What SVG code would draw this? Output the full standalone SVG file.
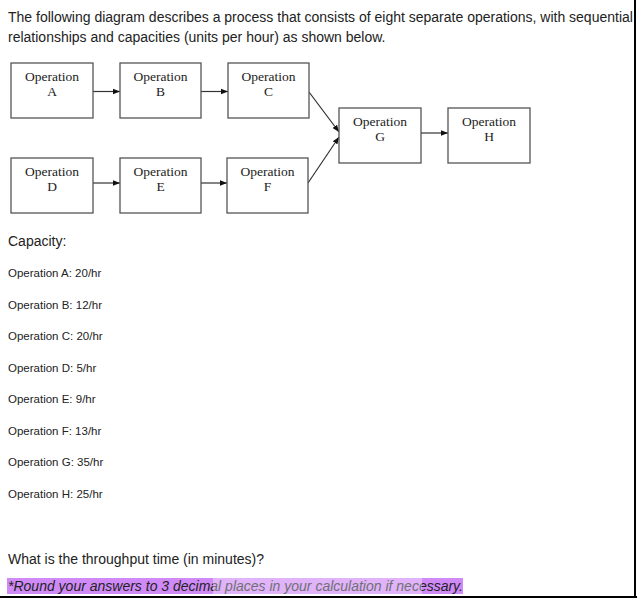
<svg xmlns="http://www.w3.org/2000/svg" width="637" height="600" viewBox="0 0 637 600">
<style>
.box{fill:#fff;stroke:#555;stroke-width:1.3}
.lbl{font-family:"Liberation Serif","Times New Roman",serif;font-size:13.5px;fill:#222;text-anchor:middle}
.txt{font-family:"Liberation Sans",Arial,sans-serif;fill:#222}
.cap{font-size:11.5px}
.con{stroke:#333;stroke-width:1.2;fill:none}
</style>
<defs>
<marker id="ah" viewBox="0 0 10 10" refX="10" refY="5" markerWidth="7" markerHeight="7" markerUnits="userSpaceOnUse" orient="auto"><path d="M0,1 L10,5 L0,9 z" fill="#111"/></marker>
</defs>
<rect width="637" height="600" fill="#fff"/>
<text class="txt" x="8" y="22" font-size="14">The following diagram describes a process that consists of eight separate operations, with sequential</text>
<text class="txt" x="8" y="42" font-size="14">relationships and capacities (units per hour) as shown below.</text>
<g id="connectors">
<line class="con" x1="93" y1="91.5" x2="120" y2="91.5" marker-end="url(#ah)"/>
<line class="con" x1="201" y1="91.5" x2="228" y2="91.5" marker-end="url(#ah)"/>
<line class="con" x1="93" y1="183" x2="120" y2="183" marker-end="url(#ah)"/>
<line class="con" x1="201" y1="183" x2="227" y2="183" marker-end="url(#ah)"/>
<line class="con" x1="309" y1="92" x2="339" y2="132" marker-end="url(#ah)"/>
<line class="con" x1="308" y1="183" x2="339" y2="137" marker-end="url(#ah)"/>
<line class="con" x1="421" y1="133" x2="448" y2="133" marker-end="url(#ah)"/>
</g>
<g id="opA"><rect class="box" x="11" y="63" width="82" height="55"/><text class="lbl" x="52" y="81">Operation</text><text class="lbl" x="52" y="96">A</text></g>
<g id="opB"><rect class="box" x="120" y="63" width="81" height="55"/><text class="lbl" x="160.5" y="81">Operation</text><text class="lbl" x="160.5" y="96">B</text></g>
<g id="opC"><rect class="box" x="228" y="63" width="81" height="55"/><text class="lbl" x="268.5" y="81">Operation</text><text class="lbl" x="268.5" y="96">C</text></g>
<g id="opD"><rect class="box" x="11" y="158" width="82" height="55"/><text class="lbl" x="52" y="176">Operation</text><text class="lbl" x="52" y="191">D</text></g>
<g id="opE"><rect class="box" x="120" y="158" width="81" height="55"/><text class="lbl" x="160.5" y="176">Operation</text><text class="lbl" x="160.5" y="191">E</text></g>
<g id="opF"><rect class="box" x="227" y="158" width="81" height="55"/><text class="lbl" x="267.5" y="176">Operation</text><text class="lbl" x="267.5" y="191">F</text></g>
<g id="opG"><rect class="box" x="339" y="108" width="82" height="55"/><text class="lbl" x="380" y="126">Operation</text><text class="lbl" x="380" y="141">G</text></g>
<g id="opH"><rect class="box" x="448" y="108" width="82" height="55"/><text class="lbl" x="489" y="126">Operation</text><text class="lbl" x="489" y="141">H</text></g>
<text class="txt" x="8" y="246" font-size="14">Capacity:</text>
<g class="txt cap">
<text x="8" y="277">Operation A: 20/hr</text>
<text x="8" y="308.5">Operation B: 12/hr</text>
<text x="8" y="340">Operation C: 20/hr</text>
<text x="8" y="371.5">Operation D: 5/hr</text>
<text x="8" y="403">Operation E: 9/hr</text>
<text x="8" y="434.5">Operation F: 13/hr</text>
<text x="8" y="466">Operation G: 35/hr</text>
<text x="8" y="497.5">Operation H: 25/hr</text>
</g>
<text class="txt" x="8" y="564" font-size="14">What is the throughput time (in minutes)?</text>
<rect x="7" y="578" width="456" height="16" fill="#cf8af8"/>
<text class="txt" x="8" y="590.5" font-size="14" font-style="italic" fill="#2a1040">*Round your answers to 3 decimal places in your calculation if necessary.</text>
<rect x="213" y="568" width="209" height="27" fill="#fff" opacity="0.35"/>
<line x1="0" y1="597" x2="637" y2="597" stroke="#000" stroke-width="2"/>
<line x1="635" y1="0" x2="635" y2="598" stroke="#000" stroke-width="2"/>
</svg>
